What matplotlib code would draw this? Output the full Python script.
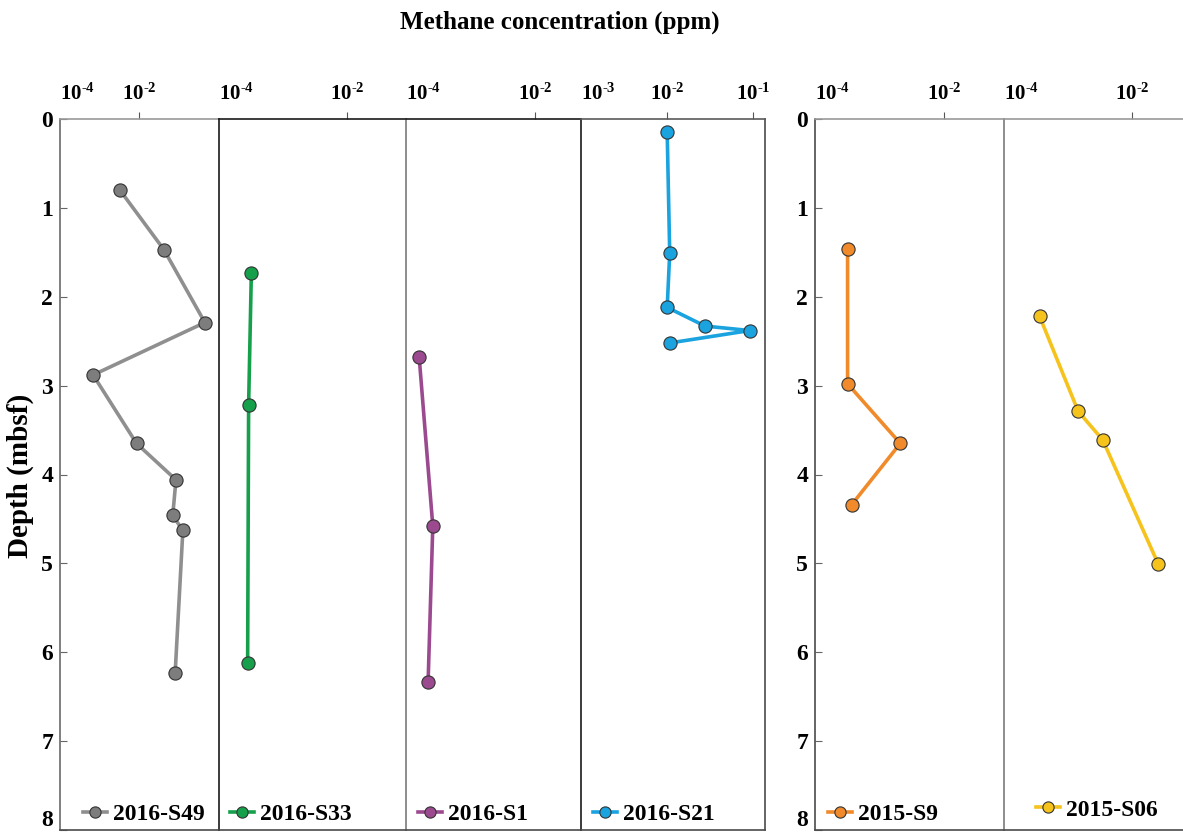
import math
import matplotlib
matplotlib.use("Agg")
import matplotlib.pyplot as plt
from matplotlib.ticker import FixedLocator, FixedFormatter, NullLocator

plt.rcParams["font.family"] = ["Liberation Serif", "DejaVu Serif"]
plt.rcParams["font.weight"] = "bold"
plt.rcParams["mathtext.fontset"] = "custom"
plt.rcParams["mathtext.rm"] = "Liberation Serif:bold"
plt.rcParams["mathtext.bf"] = "Liberation Serif:bold"
plt.rcParams["mathtext.it"] = "Liberation Serif:bold:italic"

# ---- methane profiles: depth (mbsf) and concentration (ppm) ----
s49_depth = [0.80, 1.47, 2.29, 2.88, 3.65, 4.06, 4.46, 4.63, 6.23]
s49_ch4 = [3.3e-3, 4.3e-2, 0.47, 6.9e-4, 8.7e-3, 8.7e-2, 7.2e-2, 0.13, 8.3e-2]

s33_depth = [1.73, 3.22, 6.12]
s33_ch4 = [3.2e-4, 2.9e-4, 2.8e-4]

s1_depth = [2.68, 4.58, 6.33]
s1_ch4 = [1.6e-4, 2.6e-4, 2.2e-4]

s21_depth = [0.15, 1.51, 2.12, 2.33, 2.38, 2.52]
s21_ch4 = [1.0e-2, 1.07e-2, 1.0e-2, 2.75e-2, 9.1e-2, 1.07e-2]

s9_depth = [1.46, 2.98, 3.65, 4.34]
s9_ch4 = [3.2e-4, 3.2e-4, 2.1e-3, 3.7e-4]

s06_depth = [2.22, 3.29, 3.61, 5.01]
s06_ch4 = [3.6e-4, 1.45e-3, 3.5e-3, 2.6e-2]

site_names = ["2016-S49", "2016-S33", "2016-S1", "2016-S21", "2015-S9", "2015-S06"]
site_depths = [s49_depth, s33_depth, s1_depth, s21_depth, s9_depth, s06_depth]
site_ch4 = [s49_ch4, s33_ch4, s1_ch4, s21_ch4, s9_ch4, s06_ch4]
site_colors = ["#8f8f8f", "#16a04c", "#9c4a8f", "#1aa3de", "#f08a2a", "#f5c31c"]
marker_faces = ["#7d7d7d", "#16a04c", "#9c4a8f", "#1aa3de", "#f08a2a", "#f5c31c"]

depth_ticks = [0, 1, 2, 3, 4, 5, 6, 7, 8]

# ---- panel geometry (pixels) and axis settings ----
W, H = 1183, 833
top_px, bot_px = 119, 830
panels = [
    # x0, x1, xmin, xmax, ticks, left spine, top spine, show depth axis, legend x offset
    (60, 219, 1e-4, 10 ** 0.03, [1e-4, 1e-2], "#6a6a6a", "#9a9a9a", True, 23),
    (219, 406, 1e-4, 10 ** -1.08, [1e-4, 1e-2], "#1a1a1a", "#1a1a1a", False, 11),
    (406, 581, 1e-4, 10 ** -1.29, [1e-4, 1e-2], "#7a7a7a", "#1a1a1a", False, 12),
    (581, 765, 1e-3, 10 ** -0.865, [1e-3, 1e-2, 1e-1], "#1a1a1a", "#5a5a5a", False, 12),
    (815, 1004, 1e-4, 10 ** -1.07, [1e-4, 1e-2], "#4a4a4a", "#9a9a9a", True, 13),
    (1004, 1190, 1e-4, 10 ** -1.09, [1e-4, 1e-2], "#7a7a7a", "#9a9a9a", False, 32),
]


def power_label(v):
    return r"$10^{\text{-}%d}$" % abs(round(math.log10(v)))


fig = plt.figure(figsize=(W / 100, H / 100), dpi=100)

for i, (x0, x1, xmin, xmax, ticks, lcol, tcol, show_y, leg_dx) in enumerate(panels):
    ax = fig.add_axes([x0 / W, 1 - bot_px / H, (x1 - x0) / W, (bot_px - top_px) / H])
    ax.set_xscale("log")
    ax.set_xlim(xmin, xmax)
    ax.set_ylim(8, 0)

    ax.plot(site_ch4[i], site_depths[i], "-o", color=site_colors[i], lw=2.6,
            marker="o", ms=9.5, mfc=marker_faces[i], mec="#333333", mew=0.8,
            label=site_names[i], zorder=3, clip_on=False)

    # top axis with decade labels
    ax.xaxis.set_ticks_position("top")
    ax.xaxis.set_label_position("top")
    ax.xaxis.set_major_locator(FixedLocator(ticks))
    ax.xaxis.set_major_formatter(FixedFormatter([power_label(t) for t in ticks]))
    ax.xaxis.set_minor_locator(NullLocator())
    ax.tick_params(axis="x", which="major", direction="out", length=5, width=0.8,
                   color="#555555", labelsize=15, pad=5)
    first = ax.xaxis.get_major_ticks()[0]
    first.label2.set_horizontalalignment("left")
    first.tick2line.set_visible(False)

    # depth axis
    if show_y:
        ax.yaxis.set_major_locator(FixedLocator(depth_ticks))
        ax.yaxis.set_major_formatter(
            FixedFormatter([str(d) if d != depth_ticks[-1] else "" for d in depth_ticks]))
        ax.tick_params(axis="y", direction="in", length=5, width=0.8,
                       color="#666666", labelsize=17, pad=5)
        ax.annotate(str(depth_ticks[-1]), xy=(0, depth_ticks[-1]),
                    xycoords=("axes fraction", "data"), xytext=(-5, 7),
                    textcoords="offset points", ha="right", va="center",
                    fontsize=17, fontweight="bold", annotation_clip=False)
    else:
        ax.yaxis.set_major_locator(NullLocator())
    ax.yaxis.set_minor_locator(NullLocator())

    for side in ("left", "top", "bottom", "right"):
        ax.spines[side].set_linewidth(1.2)
    ax.spines["left"].set_color(lcol)
    ax.spines["top"].set_color(tcol)
    ax.spines["bottom"].set_color("#4a4a4a")
    if i == 3:
        ax.spines["right"].set_color("#4a4a4a")
    else:
        ax.spines["right"].set_visible(False)

    leg_y = 0.007 if i != 5 else 0.013
    ax.legend(loc="lower left", bbox_to_anchor=(leg_dx / (x1 - x0), leg_y),
              frameon=False, fontsize=17, handlelength=1.0, handletextpad=0.25,
              borderpad=0.0, borderaxespad=0.0, markerscale=0.85)

fig.text(560 / W, 1 - 22 / H, "Methane concentration (ppm)", ha="center", va="center",
         fontsize=18, fontweight="bold")
fig.text(20 / W, 1 - 476 / H, "Depth (mbsf)", ha="center", va="center",
         rotation=90, fontsize=21, fontweight="bold")

fig.savefig("out.png", dpi=100)
